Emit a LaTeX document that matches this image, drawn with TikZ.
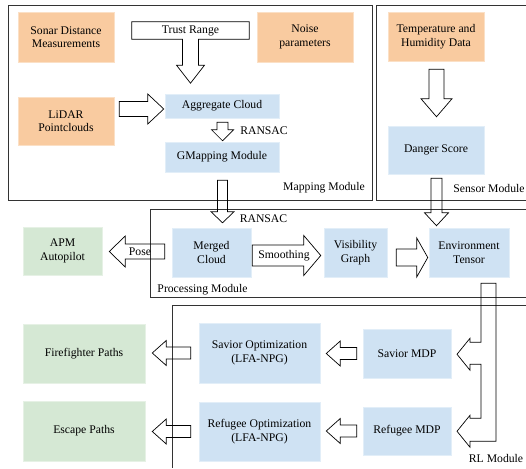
\documentclass[tikz,border=0pt]{standalone}
\usepackage{fontspec}
\setmainfont{Liberation Serif}
\usetikzlibrary{calc}

\definecolor{srcorange}{HTML}{F9CBA0}
\definecolor{procblue}{HTML}{CFE2F3}
\definecolor{outgreen}{HTML}{D5E8D4}

\tikzset{
    srcbox/.style={fill=srcorange, draw=srcorange!60!white, line width=0.5pt, align=center, inner sep=0pt, minimum width=96pt},
    procbox/.style={fill=procblue, draw=procblue!60!white, line width=0.5pt, align=center, inner sep=0pt},
    outbox/.style={fill=outgreen, draw=outgreen!60!white, line width=0.5pt, align=center, inner sep=0pt},
    modframe/.style={draw=black!80, line width=0.8pt},
    blockarr/.style={draw=black, line width=0.7pt},
}

% block arrows: from, to, shaft half width, head half width, head length
\newcommand{\hblk}[5]{\draw[blockarr] let \p1=(#1), \p2=(#2),
    \n1={(\x2-\x1)/abs(\x2-\x1)}, \n2={\x2-\n1*#5} in
    (\x1,{\y1+#3}) -- (\n2,{\y1+#3}) -- (\n2,{\y1+#4}) -- (\x2,\y1)
    -- (\n2,{\y1-#4}) -- (\n2,{\y1-#3}) -- (\x1,{\y1-#3}) -- cycle;}
\newcommand{\vblk}[5]{\draw[blockarr] let \p1=(#1), \p2=(#2),
    \n1={(\y2-\y1)/abs(\y2-\y1)}, \n2={\y2-\n1*#5} in
    ({\x1+#3},\y1) -- ({\x1+#3},\n2) -- ({\x1+#4},\n2) -- (\x1,\y2)
    -- ({\x1-#4},\n2) -- ({\x1-#3},\n2) -- ({\x1-#3},\y1) -- cycle;}

\begin{document}
\begin{tikzpicture}[x=1pt, y=-1pt, font=\fontsize{11.7}{13.5}\selectfont]
    \useasboundingbox (0,0) rectangle (526,468);

    % module frames
    \draw[modframe] (8,5) rectangle (372,200);
    \draw[modframe] (526,5) -| (376,200) -- (526,200);
    \draw[modframe] (526,209) -| (150,297) -- (526,297);
    \draw[modframe] (526,305) -| (172,468);
    \node (maplbl) at (324,188) {Mapping Module};
    \node (senslbl) at (489,188) {Sensor Module};
    \node (proclbl) at (202.5,290) {Processing Module};
    \node (rllbl) at (496,458) {RL Module};

    % inputs
    \node[srcbox, minimum height=50pt] (sonar) at (66,37) {Sonar Distance\\Measurements};
    \node[srcbox, minimum height=50pt] (noise) at (305,37) {Noise\\parameters};
    \node[srcbox, minimum height=48pt] (lidar) at (66,121) {LiDAR\\Pointclouds};
    \node[srcbox, minimum height=49pt] (temp) at (436,36.5) {Temperature and\\Humidity Data};

    % processing steps
    \node[procbox, minimum width=114pt, minimum height=24pt] (agg) at (222,106) {Aggregate Cloud};
    \node[procbox, minimum width=114pt, minimum height=30pt] (gmap) at (222,157) {GMapping Module};
    \node[procbox, minimum width=96pt, minimum height=48pt] (danger) at (436,150) {Danger Score};
    \node[procbox, minimum width=79pt, minimum height=49pt] (merged) at (211.5,252.5) {Merged\\Cloud};
    \node[procbox, minimum width=63pt, minimum height=49pt] (visgraph) at (355.5,252.5) {Visibility\\Graph};
    \node[procbox, minimum width=80pt, minimum height=49pt] (env) at (469,252.5) {Environment\\Tensor};
    \node[procbox, minimum width=121pt, minimum height=60pt] (savopt) at (259.5,353) {Savior Optimization\\(LFA-NPG)};
    \node[procbox, minimum width=88pt, minimum height=49pt] (savmdp) at (407,353.5) {Savior MDP};
    \node[procbox, minimum width=121pt, minimum height=59pt] (refopt) at (259.5,431.5) {Refugee Optimization\\(LFA-NPG)};
    \node[procbox, minimum width=88pt, minimum height=48pt] (refmdp) at (407,431) {Refugee MDP};

    % outputs
    \node[outbox, minimum width=79pt, minimum height=48pt] (apm) at (62.5,251) {APM\\Autopilot};
    \node[outbox, minimum width=122pt, minimum height=59pt] (fire) at (84,353.5) {Firefighter Paths};
    \node[outbox, minimum width=122pt, minimum height=60pt] (escape) at (84,431) {Escape Paths};

    % trust range
    \node[inner sep=0pt, minimum width=117pt, minimum height=17pt] (trust) at (190.5,30.5) {Trust Range};
    \draw[blockarr] ([xshift=8pt]trust.south) -- (trust.south east) -- (trust.north east)
        -- (trust.north west) -- (trust.south west) -- ([xshift=-8pt]trust.south)
        -- ++(0,26) -- ++(-6,0) -- ++(14,18) -- ++(14,-18) -- ++(-6,0) -- cycle;

    % block arrows
    \hblk{[shift={(5,-12)}]lidar.east}{[xshift=-1pt]agg.west}{7.5}{15}{16}
    \vblk{[shift={(0.5,4)}]agg.south}{[yshift=1pt]gmap.north}{5.5}{11}{11}
    \node (ransac1) at (264,131) {RANSAC};
    \vblk{[shift={(0.5,8)}]temp.south}{[yshift=9pt]danger.north}{7.5}{15.5}{18}
    \vblk{[shift={(0.5,8)}]gmap.south}{[yshift=5pt]merged.north}{5}{11.5}{11}
    \node (ransac2) at (263.5,219) {RANSAC};
    \vblk{[shift={(0.5,4)}]danger.south}{[yshift=2pt]env.north}{5.5}{12}{13}
    \hblk{[shift={(-7,-1)}]merged.west}{[xshift=7pt]apm.east}{7.5}{15.5}{16}
    \node (poselbl) at (140,251.5) {Pose};
    \hblk{[shift={(1,3)}]merged.east}{[xshift=-3pt]visgraph.west}{10.5}{20}{17}
    \node (smoothlbl) at (284,256) {Smoothing};
    \hblk{[shift={(9,5)}]visgraph.east}{[xshift=-1pt]env.west}{8.5}{19.5}{11}
    \hblk{[xshift=-6pt]savmdp.west}{[xshift=6pt]savopt.east}{6}{12.5}{14}
    \hblk{[xshift=-6pt]refmdp.west}{[xshift=6pt]refopt.east}{6}{12.5}{14}
    \hblk{[xshift=-8pt]savopt.west}{[xshift=7pt]fire.east}{6}{12.5}{14}
    \hblk{[xshift=-8pt]refopt.west}{[xshift=7pt]escape.east}{6}{12.5}{14}

    % split to both MDPs
    \draw[blockarr] ([shift={(12,6)}]env.south) -- ++(15,0) -- ++(0,158) -- ++(-26,0)
        -- ++(0,6) -- ++(-13,-16) -- ++(13,-16) -- ++(0,3) -- ++(11,0) -- ++(0,-54)
        -- ++(-11,0) -- ++(0,6) -- ++(-13,-16) -- ++(13,-16) -- ++(0,4) -- ++(11,0) -- cycle;
\end{tikzpicture}
\end{document}
